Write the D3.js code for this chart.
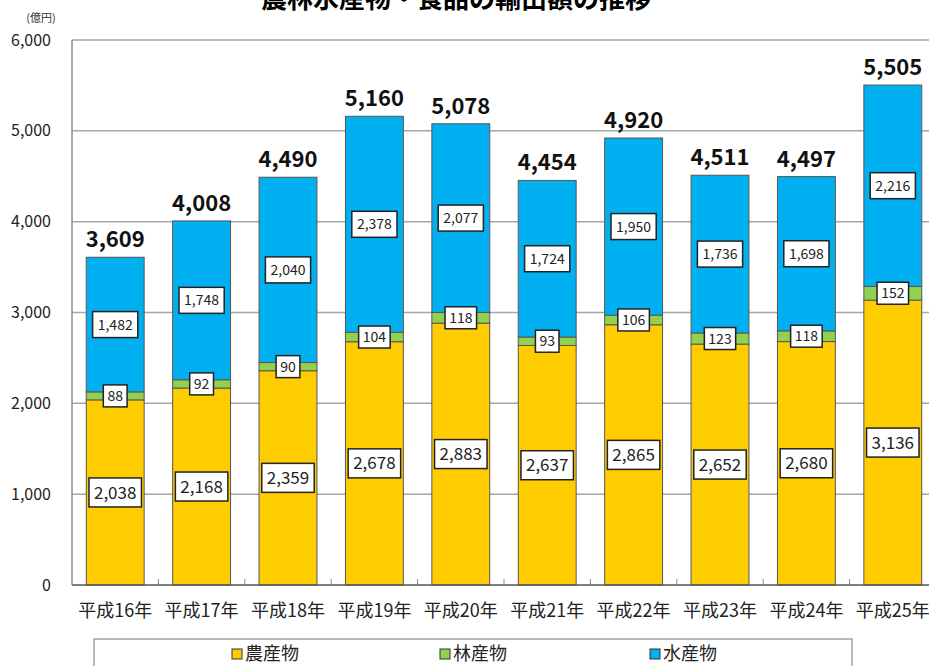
<!DOCTYPE html>
<html>
<head>
<meta charset="utf-8">
<script src="https://cdn.jsdelivr.net/npm/d3@7"></script>
<style>
  body { margin: 0; background: #fff; }
  text { font-family: "Noto Sans CJK JP", "Noto Sans", sans-serif; }
</style>
</head>
<body>
<div id="chart"></div>
<script>
const years = ["平成16年", "平成17年", "平成18年", "平成19年", "平成20年",
               "平成21年", "平成22年", "平成23年", "平成24年", "平成25年"];
const agri = [2038, 2168, 2359, 2678, 2883, 2637, 2865, 2652, 2680, 3136];
const forest = [88, 92, 90, 104, 118, 93, 106, 123, 118, 152];
const fish = [1482, 1748, 2040, 2378, 2077, 1724, 1950, 1736, 1698, 2216];
const totals = [3609, 4008, 4490, 5160, 5078, 4454, 4920, 4511, 4497, 5505];
const seriesNames = ["農産物", "林産物", "水産物"];
const colors = ["#FFCC00", "#92D050", "#00B0F0"];
const yTicks = [0, 1000, 2000, 3000, 4000, 5000, 6000];

const W = 929, H = 666;
const plot = {left: 72, right: 936, top: 40, bottom: 585};

const svg = d3.select("#chart").append("svg")
    .attr("width", W).attr("height", H);

const x = d3.scaleBand().domain(years).range([plot.left, plot.right])
    .paddingInner(0.33).paddingOuter(0.165);
const y = d3.scaleLinear().domain([0, 6000]).range([plot.bottom, plot.top]);
const fmt = d3.format(",");

// title (cut off at the top, as in the source image)
svg.append("text")
    .attr("x", 456).attr("y", 8)
    .attr("text-anchor", "middle")
    .attr("font-size", 26).attr("font-weight", "bold")
    .text("農林水産物・食品の輸出額の推移");

svg.append("text")
    .attr("x", 41).attr("y", 22)
    .attr("text-anchor", "middle")
    .attr("font-size", 11).attr("fill", "#333")
    .text("(億円)");

// gridlines
svg.append("g")
    .selectAll("line").data(yTicks.filter(d => d > 0)).join("line")
    .attr("x1", plot.left).attr("x2", plot.right)
    .attr("y1", d => y(d)).attr("y2", d => y(d))
    .attr("stroke", "#a6a6a6").attr("stroke-width", 1.5);

// y tick labels
svg.append("g")
    .selectAll("text").data(yTicks).join("text")
    .attr("x", 51).attr("y", d => y(d))
    .attr("dy", "0.35em")
    .attr("text-anchor", "end")
    .attr("font-size", 16).attr("fill", "#222")
    .text(d => fmt(d));

svg.append("line")
    .attr("x1", plot.left).attr("x2", plot.left).attr("y1", plot.top).attr("y2", plot.bottom)
    .attr("stroke", "#8c8c8c").attr("stroke-width", 1.5);

// stacked bars
const rows = years.map((yr, i) => ({year: yr, v: [agri[i], forest[i], fish[i]], total: totals[i]}));

rows.forEach(r => {
    let base = 0;
    const g = svg.append("g");
    r.v.forEach((val, k) => {
        g.append("rect")
            .attr("x", x(r.year))
            .attr("y", y(base + val))
            .attr("width", x.bandwidth())
            .attr("height", y(base) - y(base + val))
            .attr("fill", colors[k])
            .attr("stroke", "#555").attr("stroke-width", 1);
        r["mid" + k] = base + val / 2;
        base += val;
    });
    r.sum = base;
});

// bottom axis line + inner ticks
svg.append("line")
    .attr("x1", plot.left).attr("x2", plot.right).attr("y1", plot.bottom).attr("y2", plot.bottom)
    .attr("stroke", "#555").attr("stroke-width", 1.5);
svg.append("g")
    .selectAll("line").data(years.slice(1)).join("line")
    .attr("x1", d => x(d) - x.step() * x.paddingInner() / 2)
    .attr("x2", d => x(d) - x.step() * x.paddingInner() / 2)
    .attr("y1", plot.bottom).attr("y2", plot.bottom - 6)
    .attr("stroke", "#888");

// value labels in boxes
function boxLabel(cx, cy, txt, fs, padX, h) {
    const g = svg.append("g");
    const rect = g.append("rect");
    const t = g.append("text")
        .attr("x", cx).attr("y", cy).attr("dy", "0.36em")
        .attr("text-anchor", "middle")
        .attr("font-size", fs).attr("fill", "#222")
        .text(txt);
    const bb = t.node().getBBox();
    rect.attr("x", cx - bb.width / 2 - padX).attr("y", cy - h / 2)
        .attr("width", bb.width + 2 * padX).attr("height", h)
        .attr("fill", "#fff").attr("stroke", "#222").attr("stroke-width", 1.5);
}

rows.forEach(r => {
    const cx = x(r.year) + x.bandwidth() / 2;
    boxLabel(cx, y(r.mid0), fmt(r.v[0]), 17, 5, 29);
    boxLabel(cx, y(r.mid1), fmt(r.v[1]), 14, 4, 22);
    boxLabel(cx, y(r.mid2), fmt(r.v[2]), 14, 5, 26);
    svg.append("text")
        .attr("x", cx).attr("y", y(r.sum) - 10)
        .attr("text-anchor", "middle")
        .attr("font-size", 22).attr("font-weight", "bold")
        .attr("fill", "#111")
        .text(fmt(r.total));
});

// x labels
svg.append("g")
    .selectAll("text").data(years).join("text")
    .attr("x", d => x(d) + x.bandwidth() / 2)
    .attr("y", 617)
    .attr("text-anchor", "middle")
    .attr("font-size", 18).attr("fill", "#222")
    .text(d => d);

// legend
svg.append("rect")
    .attr("x", 94).attr("y", 639).attr("width", 758).attr("height", 40)
    .attr("fill", "#fff").attr("stroke", "#777").attr("stroke-width", 1);
const legX = [232, 440, 650];
seriesNames.forEach((n, k) => {
    svg.append("rect")
        .attr("x", legX[k]).attr("y", 649).attr("width", 10).attr("height", 10)
        .attr("fill", colors[k]).attr("stroke", "#333").attr("stroke-width", 1);
    svg.append("text")
        .attr("x", legX[k] + 13).attr("y", 660)
        .attr("font-size", 18).attr("fill", "#222")
        .text(n);
});
</script>
</body>
</html>
